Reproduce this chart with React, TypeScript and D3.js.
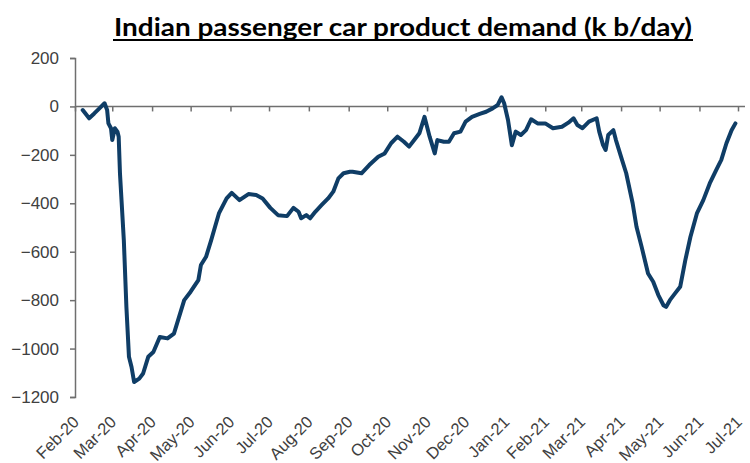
import React, { useEffect, useRef } from 'react';
import * as d3 from 'd3';

// demand vs. baseline, k b/day
const dates = [
  '2020-02-07', '2020-02-12', '2020-02-16', '2020-02-20', '2020-02-24', '2020-02-26', '2020-02-27',
  '2020-02-29', '2020-03-01', '2020-03-03', '2020-03-05', '2020-03-06', '2020-03-07', '2020-03-10',
  '2020-03-12', '2020-03-14', '2020-03-16', '2020-03-18', '2020-03-22', '2020-03-25', '2020-03-29',
  '2020-04-02', '2020-04-07', '2020-04-13', '2020-04-18', '2020-04-22', '2020-04-26', '2020-05-01',
  '2020-05-07', '2020-05-09', '2020-05-13', '2020-05-17', '2020-05-20', '2020-05-23', '2020-05-29',
  '2020-06-02', '2020-06-08', '2020-06-15', '2020-06-21', '2020-06-26', '2020-07-02', '2020-07-08',
  '2020-07-15', '2020-07-20', '2020-07-24', '2020-07-26', '2020-07-30', '2020-08-02', '2020-08-06',
  '2020-08-11', '2020-08-16', '2020-08-20', '2020-08-24', '2020-08-28', '2020-09-02', '2020-09-04',
  '2020-09-11', '2020-09-17', '2020-09-24', '2020-09-29', '2020-10-04', '2020-10-09', '2020-10-14',
  '2020-10-18', '2020-10-22', '2020-10-26', '2020-10-30', '2020-11-01', '2020-11-03', '2020-11-07',
  '2020-11-09', '2020-11-14', '2020-11-18', '2020-11-22', '2020-11-27', '2020-12-01', '2020-12-06',
  '2020-12-12', '2020-12-17', '2020-12-22', '2020-12-26', '2020-12-29', '2020-12-31', '2021-01-03',
  '2021-01-06', '2021-01-09', '2021-01-13', '2021-01-17', '2021-01-21', '2021-01-26', '2021-02-01',
  '2021-02-07', '2021-02-14', '2021-02-19', '2021-02-23', '2021-02-26', '2021-03-02', '2021-03-07',
  '2021-03-13', '2021-03-15', '2021-03-18', '2021-03-20', '2021-03-22', '2021-03-26', '2021-03-28',
  '2021-04-01', '2021-04-05', '2021-04-10', '2021-04-13', '2021-04-17', '2021-04-22', '2021-04-26',
  '2021-04-30', '2021-05-04', '2021-05-06', '2021-05-09', '2021-05-13', '2021-05-17', '2021-05-21',
  '2021-05-25', '2021-05-30', '2021-06-04', '2021-06-09', '2021-06-14', '2021-06-18', '2021-06-22',
  '2021-06-26', '2021-06-29'
];

const demand = [
  -15, -49, -29, -8, 13, -15, -70,
  -90, -139, -90, -104, -125, -276, -552,
  -828, -1034, -1076, -1138, -1124, -1103, -1034,
  -1014, -952, -958, -938, -869, -800, -765,
  -717, -655, -621, -552, -497, -442, -380,
  -357, -387, -362, -366, -380, -419, -449,
  -453, -419, -435, -462, -449, -462, -435,
  -407, -380, -352, -297, -276, -270, -270,
  -276, -242, -208, -194, -152, -125, -146,
  -166, -139, -111, -43, -84, -125, -194,
  -139, -146, -146, -111, -104, -63, -43,
  -31, -22, -8, 6, 38, 13, -56,
  -160, -104, -118, -98, -53, -70, -70,
  -90, -84, -67, -49, -77, -90, -63,
  -49, -104, -160, -180, -118, -98, -139,
  -208, -276, -400, -497, -580, -690, -724,
  -779, -821, -828, -800, -772, -745, -635,
  -538, -442, -387, -318, -263, -221, -152,
  -98, -70
];

const yTicks = [200, 0, -200, -400, -600, -800, -1000, -1200];

const monthTicks = [
  '2020-02-01', '2020-03-01', '2020-04-01', '2020-05-01', '2020-06-01', '2020-07-01',
  '2020-08-01', '2020-09-01', '2020-10-01', '2020-11-01', '2020-12-01', '2021-01-01',
  '2021-02-01', '2021-03-01', '2021-04-01', '2021-05-01', '2021-06-01', '2021-07-01'
];

const title = 'Indian passenger car product demand (k b/day)';

export default function App() {
  const ref = useRef<SVGSVGElement | null>(null);

  useEffect(() => {
    if (!ref.current) return;
    const svg = d3.select(ref.current);
    svg.selectAll('*').remove();

    const parse = d3.timeParse('%Y-%m-%d');
    const data = dates.map((d, i) => ({ date: parse(d) as Date, value: demand[i] }));
    const ticks = monthTicks.map(d => parse(d) as Date);

    const x = d3.scaleTime()
      .domain([ticks[0], ticks[ticks.length - 1]])
      .range([75, 738]);
    const y = d3.scaleLinear().domain([-1200, 200]).range([397, 58]);

    const textColor = '#404040';
    const axisColor = '#6f6f6f';

    // title, underlined
    svg.append('text')
      .attr('x', 114)
      .attr('y', 36)
      .attr('textLength', 578)
      .attr('lengthAdjust', 'spacingAndGlyphs')
      .style('font-family', 'Lato, "Open Sans", sans-serif')
      .style('font-weight', 'bold')
      .style('font-size', '24px')
      .attr('fill', '#000')
      .text(title);
    svg.append('line')
      .attr('x1', 113).attr('x2', 693)
      .attr('y1', 40).attr('y2', 40)
      .attr('stroke', '#000')
      .attr('stroke-width', 2);

    // y axis
    const yAxis = svg.append('g')
      .attr('transform', 'translate(75,0)')
      .call(d3.axisLeft(y).tickValues(yTicks).tickSize(5).tickPadding(11).tickFormat(d3.format('d')));
    yAxis.select('.domain').attr('stroke', axisColor).attr('stroke-width', 1.5);
    yAxis.selectAll('.tick line').attr('stroke', axisColor).attr('stroke-width', 1.5);
    yAxis.selectAll('.tick text')
      .attr('fill', textColor)
      .style('font-family', 'Arial, "Liberation Sans", sans-serif')
      .style('font-size', '17px');

    // x axis on the zero line, labels at the bottom
    const xAxis = svg.append('g')
      .attr('transform', `translate(0,${y(0)})`)
      .call(d3.axisBottom(x).tickValues(ticks).tickSize(5).tickFormat(() => ''));
    xAxis.select('.domain')
      .attr('d', 'M75,0H745')
      .attr('stroke', axisColor)
      .attr('stroke-width', 1.5);
    xAxis.selectAll('.tick line').attr('stroke', axisColor).attr('stroke-width', 1.5);

    const fmt = d3.timeFormat('%b-%y');
    svg.append('g')
      .selectAll('text')
      .data(ticks)
      .enter()
      .append('text')
      .attr('transform', d => `translate(${x(d) + 5},${y(-1200) + 26}) rotate(-45)`)
      .attr('text-anchor', 'end')
      .attr('fill', textColor)
      .style('font-family', 'Arial, "Liberation Sans", sans-serif')
      .style('font-size', '16.5px')
      .text(d => fmt(d));

    // line
    const line = d3.line<{ date: Date; value: number }>()
      .x(d => x(d.date))
      .y(d => y(d.value));
    svg.append('path')
      .datum(data)
      .attr('d', line)
      .attr('fill', 'none')
      .attr('stroke', '#0f3d66')
      .attr('stroke-width', 4)
      .attr('stroke-linejoin', 'round')
      .attr('stroke-linecap', 'round');
  }, []);

  return (
    <svg
      ref={ref}
      width={750}
      height={463}
      style={{ position: 'absolute', left: 0, top: 0, background: '#fff' }}
    />
  );
}
